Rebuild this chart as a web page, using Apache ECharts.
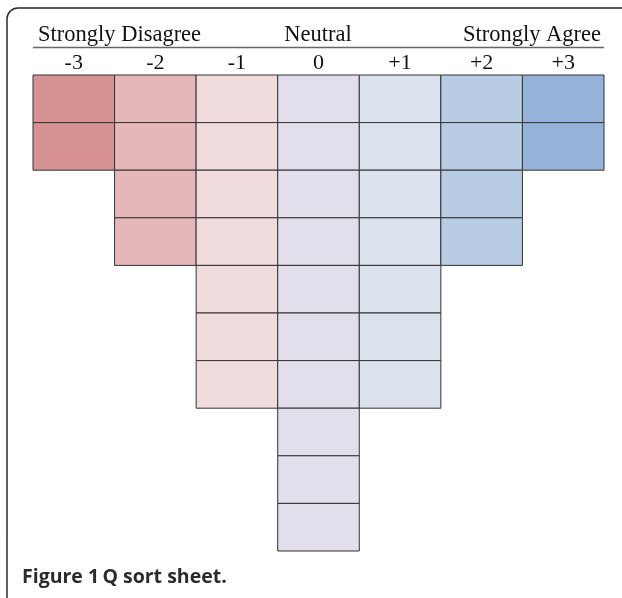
<!DOCTYPE html>
<html>
<head>
<meta charset="utf-8">
<script src="https://cdn.jsdelivr.net/npm/echarts@6/dist/echarts.min.js"></script>
<style>
html,body{margin:0;padding:0;background:#fff;}
#main{width:622px;height:598px;}
</style>
</head>
<body>
<div id="main"></div>
<script>
// Data
const columns = ['-3', '-2', '-1', '0', '+1', '+2', '+3'];
const cellCounts = [2, 4, 7, 10, 7, 4, 2];
const rowLabels = ['1', '2', '3', '4', '5', '6', '7', '8', '9', '10'];
const scaleLabels = ['Strongly Disagree', 'Neutral', 'Strongly Agree'];
const captionBold = 'Figure 1';
const captionText = 'Q sort sheet.';

// Styles
const palette = ['#d79394', '#e6b7b8', '#f0dcdc', '#e2deeb', '#dbe2ee', '#b8cce4', '#95b2d8'];

const cells = [];
columns.forEach((c, i) => {
  for (let r = 0; r < cellCounts[i]; r++) cells.push([i, r]);
});

const chart = echarts.init(document.getElementById('main'), null, {renderer: 'canvas'});
const serif = '"Liberation Serif", "Times New Roman", serif';

chart.setOption({
  backgroundColor: '#fff',
  animation: false,
  grid: {left: 33, right: 18, top: 75, bottom: 47},
  xAxis: {
    type: 'category',
    data: columns,
    position: 'top',
    axisLine: {show: false},
    axisTick: {show: false},
    splitLine: {show: false},
    axisLabel: {
      margin: 1,
      fontFamily: serif,
      fontSize: 22,
      color: '#111',
      verticalAlign: 'bottom'
    }
  },
  yAxis: {
    type: 'category',
    data: rowLabels,
    inverse: true,
    show: false
  },
  series: [{
    type: 'custom',
    data: cells,
    encode: {x: 0, y: 1},
    renderItem: function (params, api) {
      const i = api.value(0);
      const r = api.value(1);
      const c = api.coord([i, r]);
      const s = api.size([1, 1]);
      return {
        type: 'rect',
        shape: {x: c[0] - s[0] / 2, y: c[1] - s[1] / 2, width: s[0], height: s[1]},
        style: {fill: palette[i], stroke: '#333', lineWidth: 1}
      };
    }
  }],
  graphic: [
    {
      type: 'rect',
      shape: {x: 7, y: 8, width: 640, height: 620, r: 11},
      style: {fill: null, stroke: '#2a2a2a', lineWidth: 1.5},
      silent: true
    },
    {
      type: 'text', x: 38, y: 24,
      style: {text: scaleLabels[0], font: '22.5px ' + serif, fill: '#111'}
    },
    {
      type: 'text', x: 318, y: 24,
      style: {text: scaleLabels[1], font: '22.5px ' + serif, fill: '#111', textAlign: 'center'}
    },
    {
      type: 'text', x: 601, y: 24,
      style: {text: scaleLabels[2], font: '22.5px ' + serif, fill: '#111', textAlign: 'right'}
    },
    {
      type: 'line',
      shape: {x1: 33, y1: 47.5, x2: 604, y2: 47.5},
      style: {stroke: '#666', lineWidth: 1.5}
    },
    {
      type: 'text', x: 22, y: 567,
      style: {
        text: '{b|' + captionBold + '} {b|' + captionText + '}',
        rich: {b: {font: 'bold 19.5px "Open Sans", sans-serif', fill: '#2b2b2b'}}
      }
    }
  ]
});
</script>
</body>
</html>
